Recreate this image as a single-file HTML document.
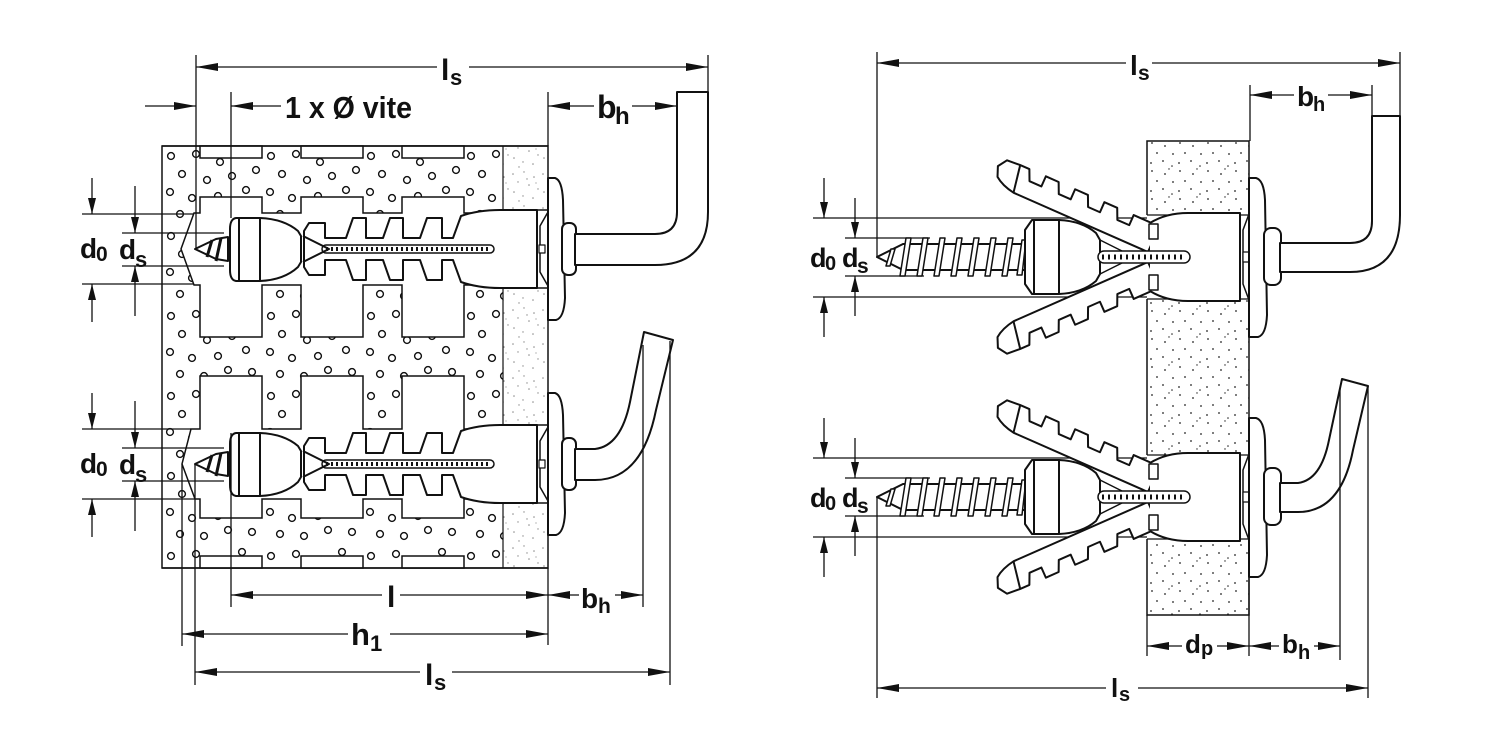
<!DOCTYPE html>
<html>
<head>
<meta charset="utf-8">
<style>
  html,body{margin:0;padding:0;background:#fff;}
  svg{display:block;}
  text{font-family:"Liberation Sans",Arial,sans-serif;font-weight:bold;fill:#111;}
</style>
</head>
<body>
<svg width="1500" height="750" viewBox="0 0 1500 750" xmlns="http://www.w3.org/2000/svg">
<defs>
  <marker id="ah" viewBox="0 0 22 8" refX="22" refY="4" markerWidth="22" markerHeight="8" markerUnits="userSpaceOnUse" orient="auto">
    <path d="M0,0 L22,4 L0,8 Z" fill="#111"/>
  </marker>
  <marker id="av" viewBox="0 0 16 8" refX="16" refY="4" markerWidth="16" markerHeight="8" markerUnits="userSpaceOnUse" orient="auto">
    <path d="M0,0 L16,4 L0,8 Z" fill="#111"/>
  </marker>
  <pattern id="brk" x="162" y="146" width="100" height="80" patternUnits="userSpaceOnUse">
    <g fill="none" stroke="#111" stroke-width="1.4">
      <circle cx="9" cy="10" r="3.4"/><circle cx="34" cy="8" r="3.4"/><circle cx="58" cy="16" r="3.4"/>
      <circle cx="80" cy="6" r="3.4"/><circle cx="94" cy="24" r="3.4"/><circle cx="20" cy="28" r="3.4"/>
      <circle cx="45" cy="34" r="3.4"/><circle cx="70" cy="30" r="3.4"/><circle cx="8" cy="46" r="3.4"/>
      <circle cx="30" cy="52" r="3.4"/><circle cx="56" cy="50" r="3.4"/><circle cx="84" cy="44" r="3.4"/>
      <circle cx="18" cy="68" r="3.4"/><circle cx="42" cy="70" r="3.4"/><circle cx="66" cy="64" r="3.4"/>
      <circle cx="90" cy="66" r="3.4"/>
    </g>
  </pattern>
  <pattern id="pl" width="30" height="34" patternUnits="userSpaceOnUse">
    <g fill="#8a8a8a">
      <circle cx="3" cy="4" r="0.8"/><circle cx="14" cy="2" r="0.7"/><circle cx="24" cy="7" r="0.8"/>
      <circle cx="8" cy="12" r="0.7"/><circle cx="19" cy="15" r="0.8"/><circle cx="28" cy="19" r="0.7"/>
      <circle cx="4" cy="22" r="0.8"/><circle cx="13" cy="26" r="0.7"/><circle cx="23" cy="28" r="0.8"/>
      <circle cx="9" cy="31" r="0.7"/><circle cx="17" cy="9" r="0.7"/><circle cx="26" cy="13" r="0.6"/>
    </g>
  </pattern>
  <pattern id="wl" width="28" height="28" patternUnits="userSpaceOnUse">
    <g fill="#222">
      <circle cx="4" cy="3" r="0.9"/><circle cx="17" cy="6" r="0.9"/><circle cx="25" cy="14" r="0.9"/>
      <circle cx="9" cy="13" r="0.9"/><circle cx="3" cy="23" r="0.9"/><circle cx="15" cy="21" r="0.9"/>
      <circle cx="24" cy="26" r="0.8"/><circle cx="21" cy="1" r="0.7"/>
    </g>
  </pattern>

  <!-- left dowel assembly, centre y=249 -->
  <g id="ld" fill="#fff" stroke="#111" stroke-width="2" stroke-linejoin="round">
    <path d="M304,231 L309,223 L325,223 L325,238 L346,238 L353,218 L366,218 L366,238 L383,238 L390,218 L403,218 L403,238 L420,238 L427,218 L442,218 L442,238 L453,238 L461,216 Q478,210 500,210 L537,210 L537,288 L500,288 Q478,288 461,282 L453,260 L442,260 L442,280 L427,280 L420,260 L403,260 L403,280 L390,280 L383,260 L366,260 L366,280 L353,280 L346,260 L325,260 L325,275 L309,275 L304,267 Z"/>
    <rect x="322" y="245" width="172" height="8" rx="4" stroke-width="1.5"/>
    <line x1="326" y1="249" x2="490" y2="249" stroke-width="4" stroke-dasharray="2 3"/>
    <path d="M303,236 L329,249 L303,262" fill="none"/>
    <path d="M236,218 L260,218 Q284,219 298,231 L301,236 L301,262 L298,267 Q284,280 260,281 L236,281 Q230,280 230,270 L230,229 Q230,219 236,218 Z"/>
    <line x1="239" y1="218" x2="239" y2="281"/>
    <line x1="260" y1="218" x2="260" y2="281"/>
    <path d="M195,249 L216,239 L228,237 L228,261 L216,259 Z"/>
    <path d="M212,240 L207,257 M221,238 L216,261" stroke-width="3" fill="none"/>
    <path d="M548,212 L540,226 L540,272 L548,286" fill="none" stroke-width="1.5"/>
    <rect x="539" y="245" width="6" height="8" stroke-width="1.2"/>
    <path d="M548,178 L555,178 Q562,180 563,200 L565,298 Q564,318 556,320 L548,320 Z"/>
    <rect x="562" y="223" width="14" height="52" rx="6"/>
  </g>

  <!-- right dowel assembly, centre y=257 -->
  <g id="rd" fill="#fff" stroke="#111" stroke-width="2" stroke-linejoin="round">
    <path d="M877,257 L903,244 L1027,244 L1027,270 L903,270 Z"/>
    <g stroke-width="1.5">
      <polygon points="886,266 890,266 895,249 891,249"/>
      <polygon points="900,276 905,276 911,238 906,238"/>
      <polygon points="917,276 922,276 928,238 923,238"/>
      <polygon points="934,276 939,276 945,238 940,238"/>
      <polygon points="951,276 956,276 962,238 957,238"/>
      <polygon points="968,276 973,276 979,238 974,238"/>
      <polygon points="985,276 990,276 996,238 991,238"/>
      <polygon points="1002,276 1007,276 1013,238 1008,238"/>
      <polygon points="1017,275 1022,275 1026,240 1022,240"/>
    </g>
    <g transform="translate(1148,252) rotate(203.8)">
      <path d="M0,0 L147,0 Q160,2 168,8 L172,18 L166,27 L152,28 L142,28 L137,17 L124,17 L124,28 L110,28 L105,17 L92,17 L92,28 L78,28 L73,17 L60,17 L60,28 L46,28 L41,17 L28,17 L28,28 L8,28 L0,22 Z"/>
      <line x1="147" y1="0" x2="152" y2="28"/>
    </g>
    <g transform="translate(0,514) scale(1,-1) translate(1148,252) rotate(203.8)">
      <path d="M0,0 L147,0 Q160,2 168,8 L172,18 L166,27 L152,28 L142,28 L137,17 L124,17 L124,28 L110,28 L105,17 L92,17 L92,28 L78,28 L73,17 L60,17 L60,28 L46,28 L41,17 L28,17 L28,28 L8,28 L0,22 Z"/>
      <line x1="147" y1="0" x2="152" y2="28"/>
    </g>
    <path d="M1150,223 Q1166,213 1188,213 L1240,213 L1240,301 L1188,301 Q1166,301 1150,291"/>
    <rect x="1149" y="224" width="9" height="15" stroke-width="1.5"/>
    <rect x="1149" y="275" width="9" height="15" stroke-width="1.5"/>
    <path d="M1032,220 L1059,220 Q1082,221 1096,233 L1100,240 L1100,274 L1096,281 Q1082,293 1059,294 L1032,294 L1025,284 L1025,230 Z"/>
    <line x1="1034" y1="220" x2="1034" y2="294"/>
    <line x1="1059" y1="220" x2="1059" y2="294"/>
    <rect x="1098" y="251" width="92" height="12" rx="6" stroke-width="1.5"/>
    <line x1="1102" y1="257" x2="1186" y2="257" stroke-width="5" stroke-dasharray="2 4"/>
    <path d="M1100,240 L1122,251 M1100,274 L1122,263" fill="none" stroke-width="1.5"/>
    <path d="M1249,214 L1243,230 L1243,284 L1249,300" fill="none" stroke-width="1.5"/>
    <rect x="1243" y="252" width="6" height="10" stroke-width="1.2"/>
    <path d="M1249,178 L1256,178 Q1264,180 1265,200 L1267,315 Q1266,335 1258,337 L1249,337 Z"/>
    <rect x="1264" y="228" width="17" height="57" rx="7"/>
  </g>
</defs>

<rect width="1500" height="750" fill="#fff"/>

<!-- ================= LEFT DIAGRAM ================= -->
<rect x="162" y="146" width="386" height="422" fill="#fff" stroke="#111" stroke-width="1.5"/>
<rect x="162.75" y="146.75" width="340" height="420.5" fill="url(#brk)"/>
<rect x="503" y="146.75" width="44.25" height="420.5" fill="url(#pl)"/>
<line x1="503" y1="146" x2="503" y2="568" stroke="#111" stroke-width="1.2"/>

<g fill="#fff" stroke="#111" stroke-width="1.5">
  <rect x="200" y="146" width="62" height="12"/>
  <rect x="301" y="146" width="62" height="12"/>
  <rect x="402" y="146" width="62" height="12"/>
  <rect x="200" y="556" width="62" height="12"/>
  <rect x="301" y="556" width="62" height="12"/>
  <rect x="402" y="556" width="62" height="12"/>
  <path d="M194,213 L200,213 L200,197 L262,197 L262,213 L301,213 L301,197 L363,197 L363,213 L402,213 L402,197 L464,197 L464,213 L503,213 L503,210 L548,210 L548,288 L503,288 L503,285 L464,285 L464,337 L402,337 L402,285 L363,285 L363,337 L301,337 L301,285 L262,285 L262,337 L200,337 L200,285 L194,285 L181,249 Z"/>
  <path d="M191,429 L200,429 L200,376 L262,376 L262,429 L301,429 L301,376 L363,376 L363,429 L402,429 L402,376 L464,376 L464,429 L503,429 L503,425 L548,425 L548,503 L503,503 L503,499 L464,499 L464,518 L402,518 L402,499 L363,499 L363,518 L301,518 L301,499 L262,499 L262,518 L200,518 L200,499 L195,499 L182,464 Z"/>
</g>
<line x1="162" y1="146" x2="548" y2="146" stroke="#111" stroke-width="1.5"/>
<line x1="162" y1="568" x2="548" y2="568" stroke="#111" stroke-width="1.5"/>

<use href="#ld"/>
<use href="#ld" transform="translate(0,215)"/>

<g fill="#fff" stroke="#111" stroke-width="2" stroke-linejoin="round">
  <path d="M575,234 L655,234 Q677,234 677,212 L677,92 L708,92 L708,212 Q708,265 655,265 L575,265 Z"/>
  <path d="M575,449 L595,449 Q621,446 630,402 L644,332 L673,340 L656,410 Q642,480 595,480 L575,480 Z"/>
</g>

<!-- left dimensions -->
<g stroke="#111" stroke-width="1.3" fill="none">
  <line x1="437" y1="67" x2="196" y2="67" marker-end="url(#ah)"/>
  <line x1="469" y1="67" x2="708" y2="67" marker-end="url(#ah)"/>
  <line x1="196" y1="55" x2="196" y2="249"/>
  <line x1="708" y1="55" x2="708" y2="92"/>
  <line x1="145" y1="106" x2="196" y2="106" marker-end="url(#ah)"/>
  <line x1="281" y1="106" x2="231" y2="106" marker-end="url(#ah)"/>
  <line x1="231" y1="92" x2="231" y2="218"/>
  <line x1="594" y1="106" x2="548" y2="106" marker-end="url(#ah)"/>
  <line x1="632" y1="106" x2="677" y2="106" marker-end="url(#ah)"/>
  <line x1="548" y1="92" x2="548" y2="146"/>

  <line x1="82" y1="214" x2="194" y2="214"/>
  <line x1="82" y1="284" x2="194" y2="284"/>
  <line x1="122" y1="233" x2="224" y2="233"/>
  <line x1="122" y1="266" x2="224" y2="266"/>
  <line x1="92" y1="178" x2="92" y2="214" marker-end="url(#av)"/>
  <line x1="92" y1="322" x2="92" y2="284" marker-end="url(#av)"/>
  <line x1="135" y1="186" x2="135" y2="233" marker-end="url(#av)"/>
  <line x1="135" y1="316" x2="135" y2="266" marker-end="url(#av)"/>

  <line x1="82" y1="429" x2="191" y2="429"/>
  <line x1="82" y1="499" x2="195" y2="499"/>
  <line x1="122" y1="448" x2="224" y2="448"/>
  <line x1="122" y1="481" x2="224" y2="481"/>
  <line x1="92" y1="393" x2="92" y2="429" marker-end="url(#av)"/>
  <line x1="92" y1="537" x2="92" y2="499" marker-end="url(#av)"/>
  <line x1="135" y1="401" x2="135" y2="448" marker-end="url(#av)"/>
  <line x1="135" y1="531" x2="135" y2="481" marker-end="url(#av)"/>

  <line x1="382" y1="595" x2="231" y2="595" marker-end="url(#ah)"/>
  <line x1="400" y1="595" x2="548" y2="595" marker-end="url(#ah)"/>
  <line x1="579" y1="595" x2="548" y2="595" marker-end="url(#ah)"/>
  <line x1="615" y1="595" x2="643" y2="595" marker-end="url(#ah)"/>
  <line x1="348" y1="634" x2="182" y2="634" marker-end="url(#ah)"/>
  <line x1="390" y1="634" x2="548" y2="634" marker-end="url(#ah)"/>
  <line x1="420" y1="672" x2="195" y2="672" marker-end="url(#ah)"/>
  <line x1="452" y1="672" x2="670" y2="672" marker-end="url(#ah)"/>
  <line x1="548" y1="568" x2="548" y2="645"/>
  <line x1="643" y1="345" x2="643" y2="607"/>
  <line x1="670" y1="341" x2="670" y2="685"/>
  <line x1="231" y1="433" x2="231" y2="607"/>
  <line x1="182" y1="464" x2="182" y2="646"/>
  <line x1="195" y1="464" x2="195" y2="685"/>
</g>

<!-- left labels -->
<text x="441" y="80" font-size="30">l</text>
<text x="450" y="85" font-size="22">s</text>
<text x="285" y="118" font-size="31" textLength="127" lengthAdjust="spacingAndGlyphs">1 x Ø vite</text>
<text x="597" y="118" font-size="32">b</text>
<text x="615" y="124" font-size="24">h</text>
<text x="80" y="258" font-size="28">d</text>
<text x="96" y="261" font-size="21">0</text>
<text x="119" y="259" font-size="28">d</text>
<text x="135" y="267" font-size="22">s</text>
<text x="80" y="473" font-size="28">d</text>
<text x="96" y="476" font-size="21">0</text>
<text x="119" y="474" font-size="28">d</text>
<text x="135" y="482" font-size="22">s</text>
<text x="387" y="607" font-size="30">l</text>
<text x="581" y="608" font-size="28">b</text>
<text x="598" y="613" font-size="21">h</text>
<text x="351" y="645" font-size="31">h</text>
<text x="370" y="651" font-size="22">1</text>
<text x="425" y="685" font-size="30">l</text>
<text x="434" y="690" font-size="22">s</text>

<!-- ================= RIGHT DIAGRAM ================= -->
<rect x="1147" y="141" width="102" height="474" fill="url(#wl)" stroke="#111" stroke-width="1.5"/>
<rect x="1146" y="215" width="104" height="84" fill="#fff"/>
<rect x="1146" y="455" width="104" height="84" fill="#fff"/>
<g stroke="#111" stroke-width="1.2">
  <line x1="1147" y1="215" x2="1249" y2="215"/>
  <line x1="1147" y1="299" x2="1249" y2="299"/>
  <line x1="1147" y1="455" x2="1249" y2="455"/>
  <line x1="1147" y1="539" x2="1249" y2="539"/>
</g>

<g stroke="#111" stroke-width="1.3" fill="none">
  <line x1="813" y1="218" x2="1147" y2="218"/>
  <line x1="813" y1="297" x2="1147" y2="297"/>
  <line x1="845" y1="238" x2="930" y2="238"/>
  <line x1="845" y1="276" x2="924" y2="276"/>
  <line x1="813" y1="458" x2="1147" y2="458"/>
  <line x1="813" y1="537" x2="1147" y2="537"/>
  <line x1="845" y1="478" x2="930" y2="478"/>
  <line x1="845" y1="516" x2="924" y2="516"/>
</g>

<use href="#rd"/>
<use href="#rd" transform="translate(0,240)"/>

<g fill="#fff" stroke="#111" stroke-width="2" stroke-linejoin="round">
  <path d="M1280,243 L1350,243 Q1372,243 1372,221 L1372,116 L1400,116 L1400,215 Q1400,272 1350,272 L1280,272 Z"/>
  <path d="M1280,483 L1298,483 Q1321,480 1329,440 L1342,379 L1368,386 L1353,450 Q1341,512 1298,512 L1280,512 Z"/>
</g>

<!-- right dimensions -->
<g stroke="#111" stroke-width="1.3" fill="none">
  <line x1="1126" y1="63" x2="877" y2="63" marker-end="url(#ah)"/>
  <line x1="1152" y1="63" x2="1400" y2="63" marker-end="url(#ah)"/>
  <line x1="877" y1="52" x2="877" y2="257"/>
  <line x1="1400" y1="52" x2="1400" y2="116"/>
  <line x1="1294" y1="95" x2="1250" y2="95" marker-end="url(#ah)"/>
  <line x1="1328" y1="95" x2="1372" y2="95" marker-end="url(#ah)"/>
  <line x1="1250" y1="85" x2="1250" y2="141"/>
  <line x1="1372" y1="85" x2="1372" y2="116"/>

  <line x1="824" y1="178" x2="824" y2="218" marker-end="url(#av)"/>
  <line x1="824" y1="337" x2="824" y2="297" marker-end="url(#av)"/>
  <line x1="855" y1="198" x2="855" y2="238" marker-end="url(#av)"/>
  <line x1="855" y1="316" x2="855" y2="276" marker-end="url(#av)"/>
  <line x1="824" y1="418" x2="824" y2="458" marker-end="url(#av)"/>
  <line x1="824" y1="577" x2="824" y2="537" marker-end="url(#av)"/>
  <line x1="855" y1="438" x2="855" y2="478" marker-end="url(#av)"/>
  <line x1="855" y1="556" x2="855" y2="516" marker-end="url(#av)"/>

  <line x1="1182" y1="646" x2="1147" y2="646" marker-end="url(#ah)"/>
  <line x1="1217" y1="646" x2="1249" y2="646" marker-end="url(#ah)"/>
  <line x1="1279" y1="646" x2="1249" y2="646" marker-end="url(#ah)"/>
  <line x1="1314" y1="646" x2="1340" y2="646" marker-end="url(#ah)"/>
  <line x1="1106" y1="688" x2="877" y2="688" marker-end="url(#ah)"/>
  <line x1="1138" y1="688" x2="1368" y2="688" marker-end="url(#ah)"/>
  <line x1="1147" y1="615" x2="1147" y2="656"/>
  <line x1="1249" y1="578" x2="1249" y2="656"/>
  <line x1="1340" y1="388" x2="1340" y2="660"/>
  <line x1="877" y1="497" x2="877" y2="698"/>
  <line x1="1368" y1="386" x2="1368" y2="698"/>
</g>

<!-- right labels -->
<text x="1130" y="75" font-size="28">l</text>
<text x="1138" y="80" font-size="21">s</text>
<text x="1297" y="106" font-size="28">b</text>
<text x="1313" y="111" font-size="20">h</text>
<text x="810" y="267" font-size="27">d</text>
<text x="825" y="270" font-size="20">0</text>
<text x="842" y="267" font-size="27">d</text>
<text x="857" y="273" font-size="21">s</text>
<text x="810" y="507" font-size="27">d</text>
<text x="825" y="510" font-size="20">0</text>
<text x="842" y="507" font-size="27">d</text>
<text x="857" y="513" font-size="21">s</text>
<text x="1185" y="653" font-size="26">d</text>
<text x="1201" y="655" font-size="20">p</text>
<text x="1282" y="653" font-size="26">b</text>
<text x="1298" y="659" font-size="20">h</text>
<text x="1111" y="697" font-size="26">l</text>
<text x="1119" y="701" font-size="20">s</text>
</svg>
</body>
</html>
